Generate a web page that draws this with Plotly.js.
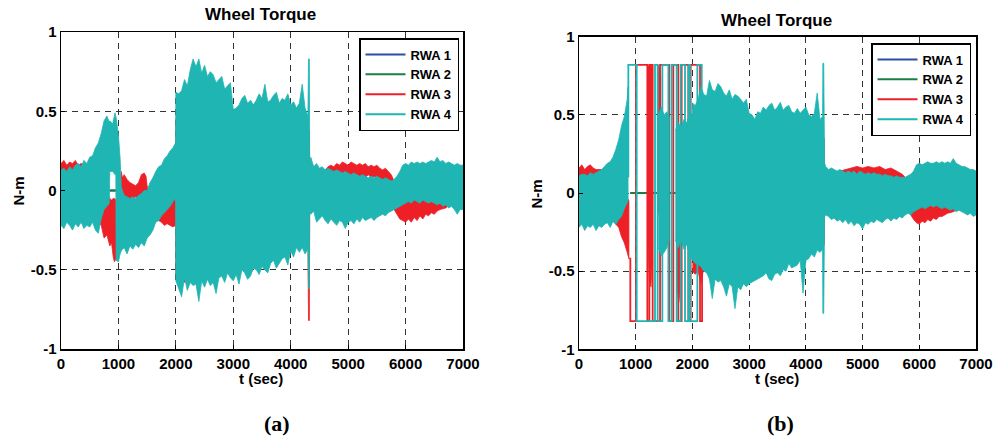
<!DOCTYPE html>
<html>
<head>
<meta charset="utf-8">
<script src="https://cdn.plot.ly/plotly-3.0.1.min.js"></script>
<style>html,body{margin:0;padding:0;background:#fff}#chart{width:993px;height:438px}</style>
</head>
<body>
<div id="chart"></div>
<script>
// ---------- DATA ----------
const xTickVals = [0,1000,2000,3000,4000,5000,6000,7000];
const xTickText = ['0','1000','2000','3000','4000','5000','6000','7000'];
const yTickVals = [-1,-0.5,0,0.5,1];
const yTickText = ['-1','-0.5','0','0.5','1'];
const seriesNames = ['RWA 1','RWA 2','RWA 3','RWA 4'];

// Panel (a) RWA 4 envelope (time, upper, lower)
const aTeal_t = [0,50,100,150,200,250,300,350,400,450,500,550,600,650,700,750,800,840,850,900,940,955,960,1000,1030,1050,
1100,1150,1200,1250,1300,1350,1400,1450,1500,1550,1600,1650,1700,1750,1800,1850,1900,1950,1995,
2000,2050,2100,2150,2200,2250,2300,2350,2400,2450,2500,2550,2600,2650,2700,2750,2800,2850,2900,2950,
3000,3050,3100,3150,3200,3250,3300,3350,3400,3450,3500,3550,3600,3650,3700,3750,3800,3850,3900,3950,
4000,4050,4100,4150,4200,4250,4300,4310,4325,
4330,4350,4400,4450,4500,4550,4600,4650,4700,4750,4800,4850,4900,4950,5000,5050,5100,5150,5200,5250,5300,5350,
5400,5450,5500,5550,5600,5650,5700,5750,5800,5850,5900,5950,6000,6050,6100,6150,6200,6250,6300,6350,
6400,6450,6500,6550,6600,6650,6700,6750,6800,6850,6900,6950,7000];
const aTeal_hi = [.13,.14,.12,.15,.13,.16,.17,.15,.19,.17,.21,.22,.27,.30,.36,.44,.47,.43,.44,.42,.49,.47,.46,.35,.20,.02,
-.03,-.04,-.05,-.04,-.05,-.03,-.02,0,0,.05,.08,.12,.15,.16,.20,.22,.25,.27,.30,
.62,.61,.63,.70,.66,.76,.83,.78,.83,.74,.79,.72,.75,.73,.68,.70,.72,.64,.66,.68,
.51,.52,.54,.58,.60,.55,.57,.54,.57,.61,.58,.67,.56,.57,.60,.62,.55,.58,.57,.61,
.54,.56,.52,.55,.67,.52,.47,.83,.83,
.17,.21,.15,.17,.14,.15,.13,.14,.13,.12,.13,.12,.11,.12,.11,.10,.11,.10,.09,.10,.09,.08,
.09,.08,.09,.08,.07,.08,.07,.06,.07,.09,.12,.16,.17,.16,.18,.17,.18,.17,.18,.17,
.18,.19,.18,.21,.18,.19,.17,.18,.17,.16,.17,.16,.16];
const aTeal_lo = [-.22,-.24,-.20,-.22,-.25,-.21,-.23,-.20,-.24,-.22,-.23,-.20,-.25,-.27,-.18,-.12,-.10,-.08,.12,.12,.10,.10,-.44,-.45,-.40,-.38,
-.36,-.40,-.35,-.37,-.34,-.36,-.33,-.35,-.30,-.28,-.25,-.20,-.19,-.16,-.14,-.12,-.10,-.07,-.05,
-.57,-.62,-.67,-.55,-.63,-.58,-.60,-.59,-.70,-.57,-.61,-.56,-.60,-.58,-.65,-.55,-.54,-.58,-.52,-.55,
-.57,-.53,-.59,-.50,-.52,-.56,-.54,-.49,-.50,-.53,-.48,-.50,-.52,-.46,-.44,-.49,-.46,-.43,-.42,-.47,
-.38,-.42,-.36,-.39,-.36,-.40,-.37,-.62,-.62,
-.14,-.15,-.13,-.20,-.18,-.16,-.19,-.21,-.18,-.20,-.22,-.19,-.20,-.24,-.20,-.19,-.21,-.18,-.20,-.17,-.19,-.18,
-.17,-.19,-.17,-.16,-.15,-.16,-.14,-.13,-.12,-.11,-.10,-.09,-.08,-.07,-.08,-.06,-.07,-.08,-.06,-.07,
-.08,-.07,-.08,-.09,-.08,-.10,-.09,-.11,-.10,-.12,-.15,-.12,-.12];

// Panel (a) RWA 3 envelope
const aRed_t = [0,50,100,150,200,250,300,350,400,500,600,700,750,800,
850,880,910,930,960,990,1030,1050,1070,1100,
1150,1200,1250,1300,1350,1400,1450,1480,1500,1550,1600,1650,1700,
1750,1800,1850,1900,1950,1995,
2000,2050,2100,2150,2200,2300,2500,2700,2900,3100,3300,3500,3700,3900,4100,4300,4310,4325,
4330,4400,4500,4600,4650,
4700,4750,4800,4850,4900,4950,5000,5050,5100,5150,5200,5250,5300,5350,5400,5450,5500,5550,5600,5650,5700,5750,
5800,5850,5900,5950,6000,6050,6100,6150,6200,6250,6300,6350,6400,6450,6500,6550,6600,
6700,6800,7000];
const aRed_hi = [.17,.19,.16,.18,.17,.19,.16,.17,.16,.17,.16,.10,.00,-.02,
-.05,-.06,-.05,-.05,-.06,-.05,.05,.12,.08,.10,
.07,.05,.04,.03,.05,.10,.11,.09,.03,-.03,-.05,-.05,-.05,
-.04,-.04,-.03,-.02,-.03,-.03,
.45,.50,.48,.50,.47,.50,.50,.48,.45,.42,.45,.42,.44,.40,.40,.38,.38,.38,
.12,.12,.11,.13,.15,
.16,.15,.17,.16,.18,.17,.16,.18,.17,.16,.17,.16,.17,.15,.16,.15,.16,.14,.13,.14,.12,.10,
.06,.00,-.02,-.03,-.03,-.04,-.03,-.04,-.03,-.04,-.03,-.04,-.03,-.03,-.02,-.03,-.02,
-.02,-.01,.00];
const aRed_lo = [-.17,-.18,-.16,-.17,-.18,-.16,-.17,-.16,-.18,-.17,-.18,-.22,-.30,-.28,
-.35,-.33,-.42,-.45,-.43,-.30,-.10,-.05,-.06,-.04,
-.06,-.05,-.06,-.04,-.05,-.04,-.03,-.02,-.02,-.10,-.14,-.15,-.19,
-.20,-.22,-.21,-.22,-.23,-.22,
-.53,-.56,-.55,-.58,-.55,-.50,-.50,-.50,-.48,-.48,-.45,-.42,-.40,-.38,-.33,-.33,-.82,-.82,
-.10,-.08,-.06,-.05,-.03,
.08,.09,.08,.10,.09,.08,.10,.09,.08,.10,.09,.09,.08,.10,.08,.09,.08,.07,.06,.05,.04,.00,
-.12,-.15,-.18,-.19,-.20,-.18,-.20,-.17,-.19,-.16,-.18,-.15,-.16,-.14,-.15,-.13,-.12,
-.11,-.08,-.06];

// Panel (a) RWA 1 / RWA 2 (visible only where the others leave a gap)
const aRwa12_t = [850,960];
const aRwa1_y = [0,0];
const aRwa2_y = [0,0];

// Panel (b) RWA 4 envelope (null = gap)
const bTeal_t = [0,50,100,150,200,250,300,350,400,450,500,550,600,650,700,750,800,850,865,
null,1400,1450,1500,1550,1590,null,
1700,1750,1800,1850,1900,1950,1995,
2000,2050,2100,2150,2200,2250,2300,2350,2400,2450,2500,2550,2600,2650,2700,2750,2800,2850,2900,2950,
3000,3050,3100,3150,3200,3250,3300,3350,3400,3450,3500,3550,3600,3650,3700,3750,3800,3850,3900,3950,
4000,4050,4100,4150,4200,4250,4295,4300,4315,4330,4350,
4400,4450,4500,4550,4600,4650,4700,4750,4800,4850,4900,4950,5000,5050,5100,5150,5200,5250,5300,5350,
5400,5450,5500,5550,5600,5650,5700,5750,5800,5850,5900,5950,6000,6050,6100,6150,6200,6250,6300,6350,
6400,6450,6500,6550,6600,6650,6700,6750,6800,6850,6900,6950,7000];
const bTeal_hi = [.11,.12,.12,.11,.13,.12,.13,.14,.15,.17,.19,.20,.23,.28,.34,.43,.49,.60,.68,
null,.50,.55,.50,.52,.48,null,
.40,.45,.42,.47,.45,.50,.50,
.575,.56,.60,.68,.63,.62,.72,.66,.65,.70,.68,.64,.62,.66,.60,.63,.62,.60,.575,.60,
.51,.50,.47,.52,.51,.55,.53,.56,.575,.53,.55,.58,.53,.55,.56,.52,.51,.54,.51,.53,
.55,.50,.49,.51,.64,.47,.49,.83,.83,.19,.17,
.15,.16,.15,.14,.15,.14,.13,.14,.13,.14,.12,.14,.13,.12,.13,.12,.13,.12,.12,.11,
.12,.11,.11,.10,.11,.10,.10,.10,.11,.12,.14,.18,.19,.18,.19,.20,.19,.19,.20,.19,
.20,.19,.20,.19,.22,.19,.18,.17,.17,.16,.15,.15,.14];
const bTeal_lo = [-.22,-.20,-.24,-.21,-.22,-.20,-.24,-.21,-.22,-.20,-.19,-.22,-.18,-.20,-.17,-.15,-.10,-.06,-.05,
null,-.35,-.40,-.38,-.35,-.30,null,
-.30,-.35,-.30,-.36,-.33,-.40,-.42,
-.43,-.45,-.46,-.47,-.50,-.51,-.55,-.675,-.55,-.57,-.56,-.60,-.66,-.58,-.60,-.74,-.60,-.62,-.58,-.60,
-.58,-.57,-.56,-.55,-.54,-.53,-.51,-.55,-.56,-.52,-.51,-.53,-.49,-.50,-.45,-.48,-.47,-.46,-.43,-.64,
-.43,-.42,-.39,-.41,-.365,-.38,-.36,-.77,-.77,-.15,-.14,
-.15,-.17,-.16,-.18,-.17,-.19,-.17,-.20,-.18,-.21,-.19,-.20,-.23,-.19,-.20,-.18,-.19,-.17,-.18,-.19,
-.17,-.16,-.18,-.16,-.17,-.15,-.16,-.14,-.13,-.14,-.12,-.11,-.10,-.09,-.10,-.09,-.08,-.09,-.08,-.09,
-.10,-.09,-.10,-.11,-.10,-.12,-.11,-.12,-.13,-.14,-.13,-.15,-.14];

// Panel (b) RWA 3 envelope (null = gap)
const bRed_t = [0,50,100,150,200,250,300,400,500,600,650,700,750,800,850,880,
null,1215,1240,1270,1295,null,1395,1420,1440,null,1725,1760,1800,null,1935,1965,null,
2000,2050,2100,2150,2200,2300,2500,2700,2900,3100,3300,3500,3700,3900,4100,4300,4325,
4330,4400,4500,4600,4700,4800,4900,5000,5100,5200,5300,5400,5500,5600,5700,5750,
5800,5850,5900,5950,6000,6050,6100,6150,6200,6250,6300,6350,6400,
6500,6600,6700,6800,7000];
const bRed_hi = [.16,.18,.15,.17,.18,.16,.15,.15,.14,.13,.10,.05,.00,-.02,-.03,-.05,
null,.80,.82,.82,.80,null,.82,.80,.75,null,-.15,-.20,-.25,null,.28,.30,null,
.50,.50,.48,.50,.48,.45,.45,.44,.42,.40,.42,.40,.41,.38,.36,.35,.35,
.14,.13,.12,.14,.15,.16,.17,.16,.17,.16,.17,.15,.16,.14,.12,.10,
.06,.02,-.03,-.05,-.06,-.05,-.06,-.05,-.04,-.05,-.04,-.04,-.03,
-.03,-.02,-.01,.00,.00];
const bRed_lo = [-.16,-.15,-.17,-.16,-.17,-.15,-.16,-.16,-.17,-.18,-.20,-.22,-.28,-.32,-.38,-.42,
null,-.30,-.56,-.60,-.40,null,-.10,-.15,-.05,null,-.60,-.70,-.58,null,-.55,-.60,null,
-.50,-.52,-.50,-.58,-.48,-.45,-.47,-.50,-.48,-.45,-.44,-.42,-.40,-.38,-.35,-.33,-.33,
-.10,-.08,-.06,-.04,.07,.08,.09,.08,.09,.08,.09,.07,.08,.06,.03,.00,
-.10,-.14,-.17,-.19,-.20,-.18,-.19,-.17,-.18,-.16,-.17,-.15,-.15,
-.13,-.12,-.10,-.08,-.06];

// Panel (b) saturated switching of RWA 3 / RWA 4
const bTealStep_t = [870,870,1017,1340,1387,1470,1576,1635,1722,1793,1869,1930,1958,2087,2164];
const bTealStep_y = [.10,.82,-.82,.82,-.82,.82,-.82,.82,-.82,.82,-.82,.82,-.82,.82,.20];
const bRedStep_t = [885,905,1005,1205,1241,1299,1429,1593,1663,1751,1810,1928,1969,2134,2170];
const bRedStep_y = [-.42,-.82,.82,-.82,.82,-.82,.82,-.82,.82,-.82,.82,-.82,.82,-.82,-.50];

// Panel (b) RWA 1 / RWA 2
const bRwa12_t = [905,2000];
const bRwa1_y = [0,0];
const bRwa2_y = [0,0];

// ---------- checks ----------
[[aTeal_t,aTeal_hi,aTeal_lo,'aTeal'],[aRed_t,aRed_hi,aRed_lo,'aRed'],
 [bTeal_t,bTeal_hi,bTeal_lo,'bTeal'],[bRed_t,bRed_hi,bRed_lo,'bRed'],
 [bTealStep_t,bTealStep_y,bTealStep_y,'bTealStep'],[bRedStep_t,bRedStep_y,bRedStep_y,'bRedStep']].forEach(c=>{
  if (c[0].length!==c[1].length || c[0].length!==c[2].length)
    throw new Error(c[3]+' length mismatch '+c[0].length+' '+c[1].length+' '+c[2].length);
});

// ---------- styling ----------
const C_BLUE = '#2a4ea6', C_GREEN = '#1c7d45', C_RED = '#ee2027', C_TEAL = '#1fb5b3';
const FONT = 'Liberation Sans, Arial, Helvetica, sans-serif';

function band(t, hi, lo) {
  const xs = [], ys = [];
  let seg = [];
  const flush = () => {
    if (!seg.length) return;
    if (xs.length) { xs.push(null); ys.push(null); }
    seg.forEach(i => { xs.push(t[i]); ys.push(hi[i]); });
    for (let k = seg.length - 1; k >= 0; k--) { xs.push(t[seg[k]]); ys.push(lo[seg[k]]); }
    seg = [];
  };
  for (let i = 0; i < t.length; i++) { if (t[i] === null) flush(); else seg.push(i); }
  flush();
  return {x: xs, y: ys};
}
function bandTrace(t, hi, lo, color, xa, ya) {
  const b = band(t, hi, lo);
  return {x: b.x, y: b.y, xaxis: xa, yaxis: ya, mode: 'lines', fill: 'toself', fillcolor: color,
          line: {color: color, width: 0.8}, showlegend: false, hoverinfo: 'skip'};
}
function lineTrace(t, y, color, xa, ya, shape, w) {
  return {x: t, y: y, xaxis: xa, yaxis: ya, mode: 'lines', line: {color: color, width: w || 2, shape: shape || 'linear'},
          showlegend: false, hoverinfo: 'skip'};
}
function legendTraces(lg, xa, ya) {
  const cols = [C_BLUE, C_GREEN, C_RED, C_TEAL];
  return seriesNames.map((n, i) => ({x: [null], y: [null], xaxis: xa, yaxis: ya, mode: 'lines', name: n,
    line: {color: cols[i], width: 2}, legend: lg, showlegend: true}));
}

const traces = [
  lineTrace(aRwa12_t, aRwa1_y, C_BLUE, 'x', 'y'),
  lineTrace(aRwa12_t, aRwa2_y, C_GREEN, 'x', 'y'),
  bandTrace(aRed_t, aRed_hi, aRed_lo, C_RED, 'x', 'y'),
  bandTrace(aTeal_t, aTeal_hi, aTeal_lo, C_TEAL, 'x', 'y'),
  lineTrace(bRwa12_t, bRwa1_y, C_BLUE, 'x2', 'y2'),
  lineTrace(bRwa12_t, bRwa2_y, C_GREEN, 'x2', 'y2'),
  bandTrace(bRed_t, bRed_hi, bRed_lo, C_RED, 'x2', 'y2'),
  lineTrace(bRedStep_t, bRedStep_y, C_RED, 'x2', 'y2', 'hv', 1.8),
  bandTrace(bTeal_t, bTeal_hi, bTeal_lo, C_TEAL, 'x2', 'y2'),
  lineTrace(bTealStep_t, bTealStep_y, C_TEAL, 'x2', 'y2', 'hv', 1.8),
  ...legendTraces('legend', 'x', 'y'),
  ...legendTraces('legend2', 'x2', 'y2')
];

function xAxis(domain, anchor) {
  return {domain: domain, anchor: anchor, range: [0, 7000], tickmode: 'array', tickvals: xTickVals, ticktext: xTickText,
    showgrid: true, gridcolor: '#333', griddash: '6px,5px', gridwidth: 1, zeroline: false,
    showline: true, mirror: true, linecolor: '#000', linewidth: 1.5, ticks: 'inside', ticklen: 4, tickcolor: '#000',
    tickfont: {family: FONT, size: 15, weight: 'bold', color: '#000'}, automargin: false, fixedrange: true};
}
function yAxis(domain, anchor) {
  return {domain: domain, anchor: anchor, range: [-1, 1], tickmode: 'array', tickvals: yTickVals, ticktext: yTickText,
    showgrid: true, gridcolor: '#333', griddash: '6px,5px', gridwidth: 1, zeroline: false,
    showline: true, mirror: true, linecolor: '#000', linewidth: 1.5, ticks: 'inside', ticklen: 4, tickcolor: '#000',
    tickfont: {family: FONT, size: 15, weight: 'bold', color: '#000'}, automargin: false, fixedrange: true};
}
function legendBox(x, y) {
  return {x: x, y: y, xanchor: 'right', yanchor: 'top', xref: 'paper', yref: 'paper', bgcolor: '#fff',
    bordercolor: '#000', borderwidth: 1.5, font: {family: FONT, size: 13, weight: 'bold', color: '#000'},
    itemwidth: 40, tracegroupgap: 0};
}
function ann(text, x, y, size, angle, family) {
  return {text: text, x: x, y: y, xref: 'paper', yref: 'paper', xanchor: 'center', yanchor: 'middle',
    showarrow: false, textangle: angle || 0, font: {family: family || FONT, size: size, weight: 'bold', color: '#000'}};
}

const layout = {
  width: 993, height: 438, margin: {l: 0, r: 0, t: 0, b: 0}, paper_bgcolor: '#fff', plot_bgcolor: '#fff',
  font: {family: FONT, color: '#000'}, showlegend: true,
  xaxis: xAxis([61/993, 463/993], 'y'),
  yaxis: yAxis([1 - 349/438, 1 - 32/438], 'x'),
  xaxis2: xAxis([579/993, 976/993], 'y2'),
  yaxis2: yAxis([1 - 349.3/438, 1 - 36.7/438], 'x2'),
  legend: legendBox(459/993, 1 - 38/438),
  legend2: legendBox(971/993, 1 - 43/438),
  annotations: [
    ann('Wheel Torque', 260.5/993, 1 - 14/438, 17),
    ann('Wheel Torque', 776/993, 1 - 21/438, 17),
    ann('t (sec)', 261/993, 1 - 378/438, 15),
    ann('t (sec)', 777/993, 1 - 378/438, 15),
    ann('N-m', 17.5/993, 1 - 191/438, 15, -90),
    ann('N-m', 536.5/993, 1 - 194/438, 15, -90),
    ann('(a)', 277/993, 1 - 423/438, 22, 0, 'Liberation Serif, Times New Roman, serif'),
    ann('(b)', 780.5/993, 1 - 423/438, 22, 0, 'Liberation Serif, Times New Roman, serif')
  ]
};

Plotly.newPlot('chart', traces, layout, {staticPlot: true, displayModeBar: false});
</script>
</body>
</html>
